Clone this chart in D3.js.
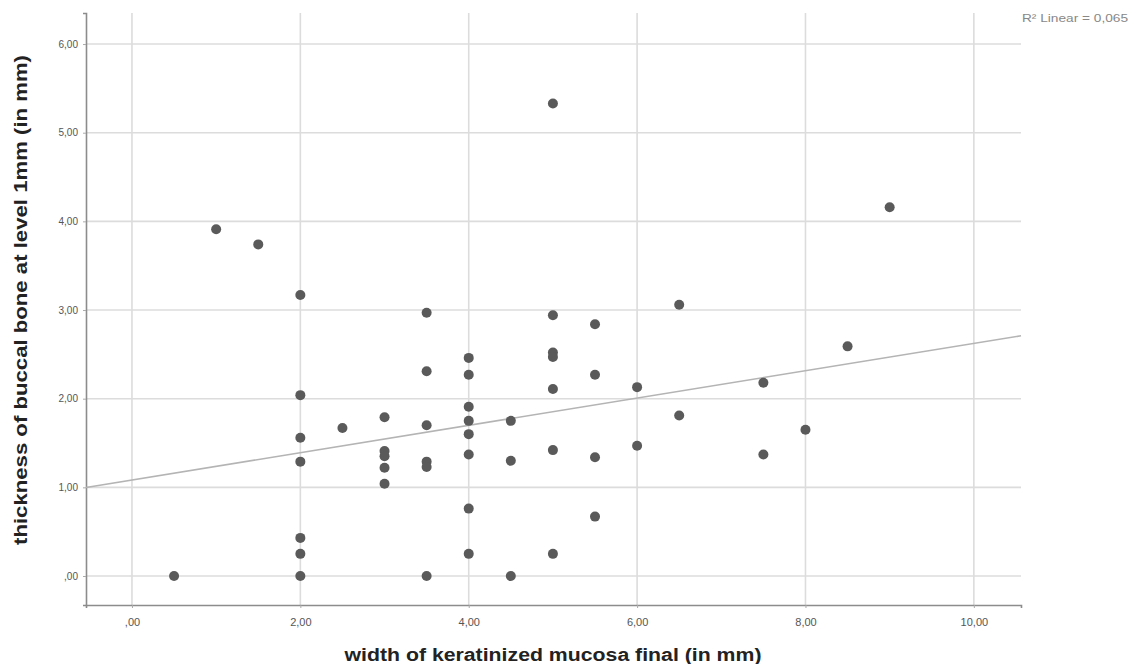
<!DOCTYPE html>
<html lang="en">
  <head>
    <meta charset="UTF-8" />
    <title>Keratinized mucosa vs buccal bone</title>
    <style>
      body { margin: 0; background: #fff; }
      text { font-family: "Liberation Sans", Arial, sans-serif; }
    </style>
  </head>
  <body>
    <script src="https://cdn.jsdelivr.net/npm/d3@7"></script>
    <script>
    // width of keratinized mucosa final (mm)
    var widthValues = [
      0.5, 1, 1.5,
      2, 2, 2, 2, 2, 2, 2,
      2.5,
      3, 3, 3, 3, 3,
      3.5, 3.5, 3.5, 3.5, 3.5, 3.5,
      4, 4, 4, 4, 4, 4, 4, 4,
      4.5, 4.5, 4.5,
      5, 5, 5, 5, 5, 5, 5,
      5.5, 5.5, 5.5, 5.5,
      6, 6,
      6.5, 6.5,
      7.5, 7.5,
      8, 8.5, 9
    ];
    // thickness of buccal bone at level 1mm (mm)
    var thicknessValues = [
      0, 3.91, 3.74,
      3.17, 2.04, 1.56, 1.29, 0.43, 0.25, 0,
      1.67,
      1.79, 1.41, 1.35, 1.22, 1.04,
      2.97, 2.31, 1.70, 1.29, 1.23, 0,
      2.46, 2.27, 1.91, 1.75, 1.60, 1.37, 0.76, 0.25,
      1.75, 1.30, 0,
      5.33, 2.94, 2.52, 2.47, 2.11, 1.42, 0.25,
      2.84, 2.27, 1.34, 0.67,
      2.13, 1.47,
      3.06, 1.81,
      2.18, 1.37,
      1.65, 2.59, 4.16
    ];
    var xTicks = [0, 2, 4, 6, 8, 10];
    var yTicks = [0, 1, 2, 3, 4, 5, 6];
    var fitIntercept = 1.083;
    var fitSlope = 0.154;
    var r2Label = "R\u00b2 Linear = 0,065";

    var w = 1138, h = 664;
    var pLeft = 86, pRight = 1021, pTop = 13, pBottom = 605;

    var fmt = function(d) {
      return d3.format(".2f")(d).replace(".", ",").replace(/^0/, "");
    };

    var svg = d3.select("body").append("svg")
                .attr("width", w).attr("height", h);

    var xScale = d3.scaleLinear().domain([-0.546, 10.56]).range([pLeft, pRight]);
    var yScale = d3.scaleLinear().domain([-0.327, 6.35]).range([pBottom, pTop]);

    // grid
    svg.append("g").selectAll("line")
       .data(xTicks).enter().append("line")
       .attr("x1", function(d) { return xScale(d); })
       .attr("x2", function(d) { return xScale(d); })
       .attr("y1", pTop).attr("y2", pBottom)
       .attr("stroke", "#dcdcdc").attr("stroke-width", 1.6);
    svg.append("g").selectAll("line")
       .data(yTicks).enter().append("line")
       .attr("y1", function(d) { return yScale(d); })
       .attr("y2", function(d) { return yScale(d); })
       .attr("x1", pLeft).attr("x2", pRight)
       .attr("stroke", "#dcdcdc").attr("stroke-width", 1.6);

    // axes
    var xAxis = d3.axisBottom(xScale).tickValues(xTicks).tickFormat(fmt)
                  .tickSize(3).tickPadding(10);
    var yAxis = d3.axisLeft(yScale).tickValues(yTicks).tickFormat(fmt)
                  .tickSize(3).tickPadding(5);
    var gx = svg.append("g").attr("transform", "translate(0," + pBottom + ")").call(xAxis);
    var gy = svg.append("g").attr("transform", "translate(" + pLeft + ",0)").call(yAxis);
    [gx, gy].forEach(function(g) {
      g.select(".domain").attr("stroke", "#8c8c8c").attr("stroke-width", 1.6);
      g.selectAll(".tick line").attr("stroke", "#aaa");
      g.selectAll(".tick text").attr("fill", "#555").attr("font-size", 10);
    });
    gx.selectAll(".tick text").attr("font-size", 11);

    // fit line
    var xd = xScale.domain();
    svg.append("line")
       .attr("x1", xScale(xd[0])).attr("y1", yScale(fitIntercept + fitSlope * xd[0]))
       .attr("x2", xScale(xd[1])).attr("y2", yScale(fitIntercept + fitSlope * xd[1]))
       .attr("stroke", "#b4b4b4").attr("stroke-width", 1.6);

    // points
    svg.append("g").selectAll("circle")
       .data(widthValues).enter().append("circle")
       .attr("cx", function(d) { return xScale(d); })
       .attr("cy", function(d, i) { return yScale(thicknessValues[i]); })
       .attr("r", 5)
       .attr("fill", "#5a5a5a");

    // labels
    svg.append("text")
       .text(r2Label)
       .attr("x", 1022).attr("y", 22)
       .attr("font-size", 10.5)
       .attr("textLength", 106).attr("lengthAdjust", "spacingAndGlyphs")
       .attr("fill", "#888");
    svg.append("text")
       .text("width of keratinized mucosa final (in mm)")
       .attr("x", 553).attr("y", 661)
       .attr("text-anchor", "middle")
       .attr("font-weight", "bold")
       .attr("font-size", 18)
       .attr("textLength", 417).attr("lengthAdjust", "spacingAndGlyphs")
       .attr("fill", "#222");
    svg.append("text")
       .text("thickness of buccal bone at level 1mm (in mm)")
       .attr("text-anchor", "middle")
       .attr("font-weight", "bold")
       .attr("font-size", 18)
       .attr("textLength", 490).attr("lengthAdjust", "spacingAndGlyphs")
       .attr("fill", "#222")
       .attr("transform", "translate(27,300)rotate(-90)");
    </script>
  </body>
</html>
